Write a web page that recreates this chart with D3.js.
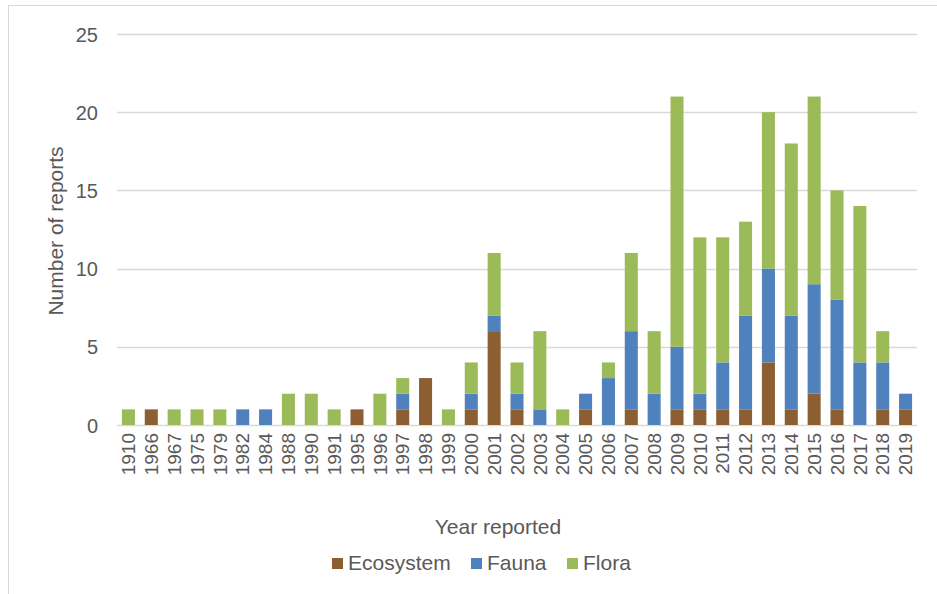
<!DOCTYPE html>
<html><head><meta charset="utf-8">
<script src="https://cdn.jsdelivr.net/npm/d3@7"></script>
<style>body{margin:0;background:#fff;}svg{display:block;font-family:"Liberation Sans",Arial,sans-serif;}</style>
</head><body>
<svg id="c" width="937" height="594"></svg>
<script>
const years = ["1910","1966","1967","1975","1979","1982","1984","1988","1990","1991","1995","1996","1997","1998","1999","2000","2001","2002","2003","2004","2005","2006","2007","2008","2009","2010","2011","2012","2013","2014","2015","2016","2017","2018","2019"];
const ecosystem = [0,1,0,0,0,0,0,0,0,0,1,0,1,3,0,1,6,1,0,0,1,0,1,0,1,1,1,1,4,1,2,1,0,1,1];
const fauna     = [0,0,0,0,0,1,1,0,0,0,0,0,1,0,0,1,1,1,1,0,1,3,5,2,4,1,3,6,6,6,7,7,4,3,1];
const flora     = [1,0,1,1,1,0,0,2,2,1,0,2,1,0,1,2,4,2,5,1,0,1,5,4,16,10,8,6,10,11,12,7,10,2,0];
const seriesNames = ["Ecosystem","Fauna","Flora"];
const yTicks = [0,5,10,15,20,25];
const colors = ["#8c5f33","#4f81bd","#9bbb59"];

const svg = d3.select("#c");
const textCol = "#595959";
// outer chart border
svg.append("rect").attr("x",8.5).attr("y",5.5).attr("width",940).attr("height",600)
  .attr("fill","none").attr("stroke","#d9d9d9").attr("stroke-width",1);

const L=117, R=917, T=34, B=425;
const x = d3.scaleBand().domain(years).range([L,R]).paddingInner(0.43).paddingOuter(0.215);
const y = d3.scaleLinear().domain([0,25]).range([B,T]);

// gridlines
svg.append("g").selectAll("line").data(yTicks).join("line")
  .attr("x1",L).attr("x2",R).attr("y1",d=>Math.round(y(d))+0.5).attr("y2",d=>Math.round(y(d))+0.5)
  .attr("stroke","#d9d9d9").attr("stroke-width",1.3);

// y axis labels
const yAxis = d3.axisLeft(y).tickValues(yTicks).tickSize(0).tickPadding(0);
const gy = svg.append("g").attr("transform",`translate(${L-19},0)`).call(yAxis);
gy.select(".domain").remove();
gy.selectAll("text").attr("fill",textCol).style("font-size","20px").attr("dy","0.35em");

// stacked data
const rows = years.map((yr,i)=>({year:yr,Ecosystem:ecosystem[i],Fauna:fauna[i],Flora:flora[i]}));
const stack = d3.stack().keys(seriesNames)(rows);
svg.append("g").selectAll("g").data(stack).join("g").attr("fill",(d,i)=>colors[i])
  .selectAll("rect").data(d=>d).join("rect")
  .attr("x",d=>x(d.data.year)).attr("width",x.bandwidth())
  .attr("y",d=>y(d[1])).attr("height",d=>y(d[0])-y(d[1]));

// x axis
const xAxis = d3.axisBottom(x).tickSize(0).tickPadding(0);
const gx = svg.append("g").attr("transform",`translate(0,${B})`).call(xAxis);
gx.select(".domain").remove();
gx.selectAll("text").attr("fill",textCol).style("font-size","19px")
  .attr("transform","rotate(-90)").attr("text-anchor","end")
  .attr("x",-8).attr("y",0).attr("dy","0.35em");

// axis titles
svg.append("text").attr("x",498).attr("y",534).attr("text-anchor","middle")
  .attr("fill",textCol).style("font-size","21px").text("Year reported");
svg.append("text").attr("transform","translate(63,231) rotate(-90)").attr("text-anchor","middle")
  .attr("fill",textCol).style("font-size","21px").text("Number of reports");

// legend
const legX = [332,471,567];
const lg = svg.append("g").selectAll("g").data(seriesNames).join("g")
  .attr("transform",(d,i)=>`translate(${legX[i]},0)`);
lg.append("rect").attr("x",0).attr("y",558).attr("width",11).attr("height",11).attr("fill",(d,i)=>colors[i]);
lg.append("text").attr("x",16).attr("y",570).attr("fill",textCol).style("font-size","21px").text(d=>d);
</script>
</body></html>
